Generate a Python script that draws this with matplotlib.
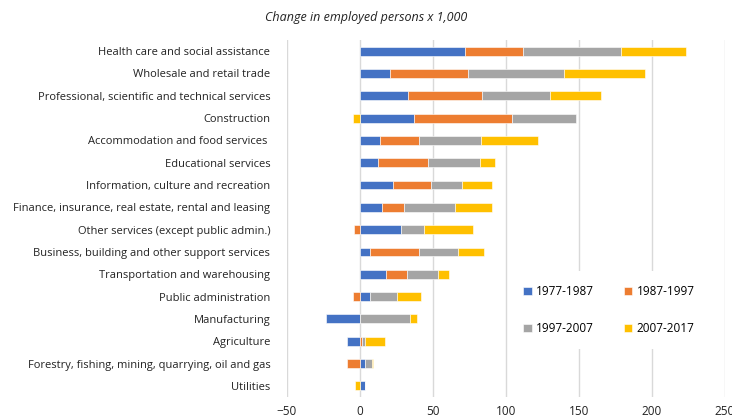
import matplotlib
matplotlib.use("Agg")
import matplotlib.pyplot as plt
import numpy as np

BLUE, ORANGE, GRAY, YELLOW = "#4472C4", "#ED7D31", "#A5A5A5", "#FFC000"

sectors = [
    "Health care and social assistance",
    "Wholesale and retail trade",
    "Professional, scientific and technical services",
    "Construction",
    "Accommodation and food services ",
    "Educational services",
    "Information, culture and recreation",
    "Finance, insurance, real estate, rental and leasing",
    "Other services (except public admin.)",
    "Business, building and other support services",
    "Transportation and warehousing",
    "Public administration",
    "Manufacturing",
    "Agriculture",
    "Forestry, fishing, mining, quarrying, oil and gas",
    "Utilities",
]
periods = ["1977-1987", "1987-1997", "1997-2007", "2007-2017"]

# change in employed persons (thousands), one list per decade
d1977 = [71.7, 20.3, 32.6, 36.8, 13.7, 12.3, 22.6, 14.8, 27.9, 6.8, 17.6, 7.1, -23.1, -8.7, 3.4, 3.7]
d1987 = [40.0, 53.7, 51.1, 67.4, 26.5, 34.0, 26.0, 15.3, -4.3, 33.3, 14.4, -4.8, 0.0, 1.6, -8.7, 0.0]
d1997 = [66.9, 65.5, 46.1, 43.8, 42.7, 35.8, 21.2, 35.2, 15.8, 26.9, 21.5, 18.0, 34.0, 1.6, 5.0, 0.0]
d2007 = [44.7, 55.7, 35.6, -5.0, 38.8, 10.5, 20.8, 24.9, 33.6, 18.0, 7.8, 16.4, 4.8, 14.2, 0.7, -3.7]

series = [d1977, d1987, d1997, d2007]
colors = [BLUE, ORANGE, GRAY, YELLOW]

plt.rcParams["font.family"] = ["Open Sans", "DejaVu Sans"]
fig = plt.figure(figsize=(7.32, 4.19), dpi=100)
ax = fig.add_axes([287 / 732, 1 - 397 / 419, 438 / 732, 357 / 419])

# stacked bars: positives grow right from 0, negatives grow left
y = np.arange(len(sectors))
pos_left = np.zeros(len(sectors))
neg_left = np.zeros(len(sectors))
handles = []
for vals, c, lbl in zip(series, colors, periods):
    v = np.array(vals)
    left = np.where(v >= 0, pos_left, neg_left)
    h = ax.barh(y, v, 0.4, left=left, color=c, edgecolor="white", lw=0.4, label=lbl, zorder=3)
    handles.append(h)
    pos_left += np.where(v >= 0, v, 0)
    neg_left += np.where(v < 0, v, 0)

ax.set_xlim(-50, 250)
ax.set_ylim(len(sectors) - 0.5, -0.5)
ax.set_xticks(np.arange(-50, 251, 50))
ax.grid(axis="x", color="#D9D9D9", lw=1, zorder=0)
ax.set_yticks(y)
ax.set_yticklabels(sectors, fontsize=8, color="#222222")
ax.tick_params(axis="y", length=0, pad=12)
ax.tick_params(axis="x", length=0, labelsize=8.5, colors="#222222", pad=6)
for s in ax.spines.values():
    s.set_visible(False)

# legend filled row by row (matplotlib fills columns, so reorder)
order = [0, 2, 1, 3]
leg = ax.legend([handles[i] for i in order], [periods[i] for i in order],
                loc="lower right", bbox_to_anchor=(0.977, 0.117), ncol=2, frameon=True,
                fancybox=False, edgecolor="none", facecolor="white", framealpha=1,
                fontsize=8.5, handlelength=0.7, handleheight=0.7, labelspacing=2.05,
                columnspacing=2.5, handletextpad=0.4, borderpad=1.2)
leg.set_zorder(5)

fig.text(0.5, 1 - 17 / 419, "Change in employed persons x 1,000", ha="center", va="center",
         fontsize=9, style="italic", color="#222222")

fig.savefig("out.png", dpi=100)
